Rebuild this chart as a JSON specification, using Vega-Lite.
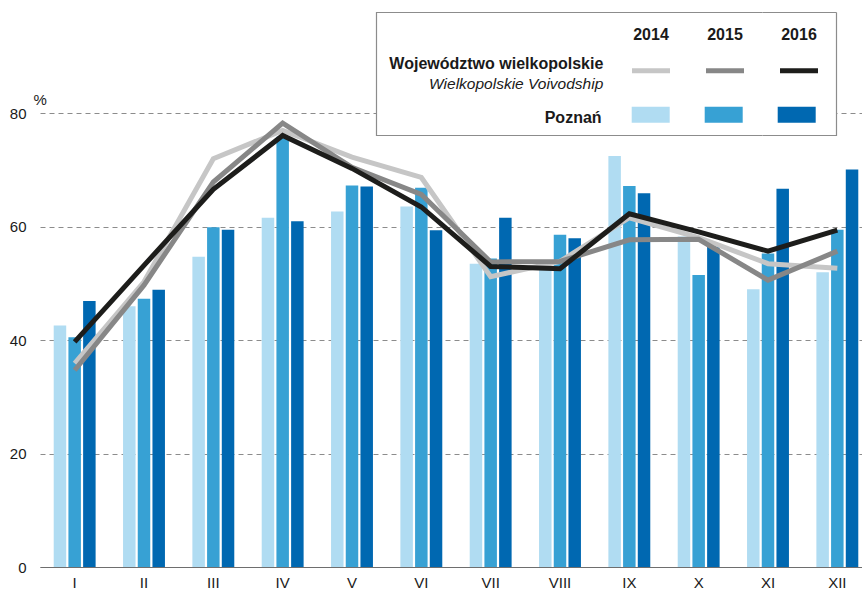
{
  "$schema": "https://vega.github.io/schema/vega-lite/v6.json",
  "width": 822,
  "height": 567,
  "autosize": {"type": "none"},
  "padding": {"left": 40, "top": 0, "right": 0, "bottom": 24},
  "background": "white",
  "config": {
    "view": {"stroke": null},
    "font": "Liberation Sans, Arial, sans-serif"
  },
  "title": {
    "text": "Województwo wielkopolskie",
    "subtitle": "Wielkopolskie Voivodship",
    "anchor": "end",
    "frame": "group",
    "orient": "top",
    "align": "right",
    "baseline": "top",
    "dx": -258.7,
    "offset": -249,
    "fontSize": 16,
    "fontWeight": "bold",
    "color": "#1a1a1a",
    "subtitleFontSize": 15.5,
    "subtitleFontStyle": "italic",
    "subtitleFontWeight": "normal",
    "subtitleColor": "#1a1a1a",
    "subtitlePadding": 4.6,
    "zindex": 3
  },
  "datasets": {
    "poznan": [
      {"month": "I", "year": "2014", "value": 42.6},
      {"month": "I", "year": "2015", "value": 40.5},
      {"month": "I", "year": "2016", "value": 46.9},
      {"month": "II", "year": "2014", "value": 46.0},
      {"month": "II", "year": "2015", "value": 47.3},
      {"month": "II", "year": "2016", "value": 48.9},
      {"month": "III", "year": "2014", "value": 54.7},
      {"month": "III", "year": "2015", "value": 59.9},
      {"month": "III", "year": "2016", "value": 59.5},
      {"month": "IV", "year": "2014", "value": 61.6},
      {"month": "IV", "year": "2015", "value": 75.9},
      {"month": "IV", "year": "2016", "value": 61.0},
      {"month": "V", "year": "2014", "value": 62.7},
      {"month": "V", "year": "2015", "value": 67.3},
      {"month": "V", "year": "2016", "value": 67.1},
      {"month": "VI", "year": "2014", "value": 63.6},
      {"month": "VI", "year": "2015", "value": 66.9},
      {"month": "VI", "year": "2016", "value": 59.4},
      {"month": "VII", "year": "2014", "value": 53.5},
      {"month": "VII", "year": "2015", "value": 54.4},
      {"month": "VII", "year": "2016", "value": 61.6},
      {"month": "VIII", "year": "2014", "value": 53.0},
      {"month": "VIII", "year": "2015", "value": 58.6},
      {"month": "VIII", "year": "2016", "value": 58.0},
      {"month": "IX", "year": "2014", "value": 72.5},
      {"month": "IX", "year": "2015", "value": 67.2},
      {"month": "IX", "year": "2016", "value": 65.9},
      {"month": "X", "year": "2014", "value": 58.3},
      {"month": "X", "year": "2015", "value": 51.5},
      {"month": "X", "year": "2016", "value": 57.1},
      {"month": "XI", "year": "2014", "value": 49.0},
      {"month": "XI", "year": "2015", "value": 55.3},
      {"month": "XI", "year": "2016", "value": 66.7},
      {"month": "XII", "year": "2014", "value": 52.0},
      {"month": "XII", "year": "2015", "value": 59.5},
      {"month": "XII", "year": "2016", "value": 70.1}
    ],
    "wojewodztwo": [
      {"month": "I", "year": "2014", "value": 35.9},
      {"month": "II", "year": "2014", "value": 50.3},
      {"month": "III", "year": "2014", "value": 72.0},
      {"month": "IV", "year": "2014", "value": 77.0},
      {"month": "V", "year": "2014", "value": 72.3},
      {"month": "VI", "year": "2014", "value": 68.7},
      {"month": "VII", "year": "2014", "value": 51.2},
      {"month": "VIII", "year": "2014", "value": 53.9},
      {"month": "IX", "year": "2014", "value": 61.6},
      {"month": "X", "year": "2014", "value": 58.1},
      {"month": "XI", "year": "2014", "value": 53.5},
      {"month": "XII", "year": "2014", "value": 52.7},
      {"month": "I", "year": "2015", "value": 34.7},
      {"month": "II", "year": "2015", "value": 49.7},
      {"month": "III", "year": "2015", "value": 67.9},
      {"month": "IV", "year": "2015", "value": 78.3},
      {"month": "V", "year": "2015", "value": 70.5},
      {"month": "VI", "year": "2015", "value": 65.7},
      {"month": "VII", "year": "2015", "value": 53.8},
      {"month": "VIII", "year": "2015", "value": 53.9},
      {"month": "IX", "year": "2015", "value": 57.7},
      {"month": "X", "year": "2015", "value": 57.8},
      {"month": "XI", "year": "2015", "value": 50.6},
      {"month": "XII", "year": "2015", "value": 55.7},
      {"month": "I", "year": "2016", "value": 39.7},
      {"month": "II", "year": "2016", "value": 53.2},
      {"month": "III", "year": "2016", "value": 66.6},
      {"month": "IV", "year": "2016", "value": 76.1},
      {"month": "V", "year": "2016", "value": 70.3},
      {"month": "VI", "year": "2016", "value": 63.5},
      {"month": "VII", "year": "2016", "value": 53.0},
      {"month": "VIII", "year": "2016", "value": 52.6},
      {"month": "IX", "year": "2016", "value": 62.3},
      {"month": "X", "year": "2016", "value": 59.1},
      {"month": "XI", "year": "2016", "value": 55.7},
      {"month": "XII", "year": "2016", "value": 59.4}
    ]
  },
  "layer": [
    {
      "data": {"name": "poznan"},
      "mark": {"type": "bar"},
      "encoding": {
        "x": {
          "field": "month",
          "type": "nominal",
          "scale": {
            "domain": ["I", "II", "III", "IV", "V", "VI", "VII", "VIII", "IX", "X", "XI", "XII"],
            "range": [0, 832],
            "paddingInner": 0,
            "paddingOuter": 0
          },
          "axis": {
            "title": null,
            "labelAngle": 0,
            "ticks": false,
            "domain": true,
            "domainColor": "#6e6e6e",
            "domainWidth": 1.2,
            "labelPadding": 8,
            "labelFontSize": 15,
            "labelColor": "#1a1a1a",
            "grid": false
          }
        },
        "xOffset": {
          "field": "year",
          "type": "nominal",
          "scale": {"paddingInner": 0.15, "paddingOuter": 0.933}
        },
        "y": {
          "field": "value",
          "type": "quantitative",
          "scale": {"domain": [0, 100], "nice": false},
          "axis": {
            "values": [0, 20, 40, 60, 80],
            "grid": true,
            "gridDash": [5, 4],
            "gridColor": "#8c8c8c",
            "gridWidth": 1,
            "domain": false,
            "ticks": false,
            "labelPadding": 14,
            "labelFontSize": 15,
            "labelColor": "#1a1a1a",
            "title": "%",
            "titleAngle": 0,
            "titleX": -7,
            "titleY": 104,
            "titleAlign": "left",
            "titleBaseline": "alphabetic",
            "titleFontWeight": "normal",
            "titleFontSize": 15,
            "titleColor": "#1a1a1a"
          }
        },
        "fill": {
          "field": "year",
          "type": "nominal",
          "scale": {"range": ["#b0dcf2", "#37a1d4", "#0068b1"]},
          "legend": {
            "orient": "none",
            "legendX": 504.7,
            "legendY": 95.7,
            "direction": "horizontal",
            "title": "Poznań",
            "titleOrient": "left",
            "titleAnchor": "end",
            "titleBaseline": "alphabetic",
            "titleFontSize": 16,
            "titleFontWeight": "bold",
            "titleColor": "#1a1a1a",
            "titlePadding": 30,
            "labelExpr": "''",
            "labelFontSize": 1,
            "labelOffset": 0,
            "symbolType": "M-1,-0.421H1V0.421H-1Z",
            "symbolSize": 1444,
            "symbolStrokeWidth": 0,
            "symbolOpacity": 1,
            "columnPadding": 35,
            "padding": 0,
            "zindex": 2
          }
        },
        "strokeDash": {
          "datum": "Poznań",
          "scale": {"range": [[1, 0]]},
          "legend": {
            "orient": "none",
            "legendX": 335.5,
            "legendY": -157,
            "title": null,
            "labelExpr": "''",
            "labelFontSize": 1,
            "labelOffset": 0,
            "symbolType": "M-1,-0.2674H1V0.2674H-1Z",
            "symbolSize": 211600,
            "symbolFillColor": "white",
            "symbolStrokeColor": "#8c8c8c",
            "symbolStrokeWidth": 1.2,
            "symbolOpacity": 1,
            "padding": 0,
            "zindex": 1
          }
        }
      }
    },
    {
      "data": {"name": "wojewodztwo"},
      "mark": {"type": "line", "strokeWidth": 5, "strokeJoin": "miter", "strokeCap": "butt"},
      "encoding": {
        "x": {"field": "month", "type": "nominal"},
        "y": {"field": "value", "type": "quantitative"},
        "stroke": {
          "field": "year",
          "type": "nominal",
          "scale": {"range": ["#c6c6c6", "#878787", "#1d1d1b"]},
          "legend": {
            "orient": "none",
            "legendX": 589.5,
            "legendY": 13,
            "direction": "horizontal",
            "title": null,
            "symbolType": "M-1,1.9L1,1.9",
            "symbolSize": 1444,
            "symbolStrokeWidth": 5,
            "labelAlign": "center",
            "labelOffset": -21.5,
            "labelBaseline": "middle",
            "labelFontSize": 16,
            "labelFontWeight": "bold",
            "labelColor": "#1a1a1a",
            "columnPadding": 15,
            "padding": 0,
            "zindex": 2
          }
        }
      }
    }
  ]
}
